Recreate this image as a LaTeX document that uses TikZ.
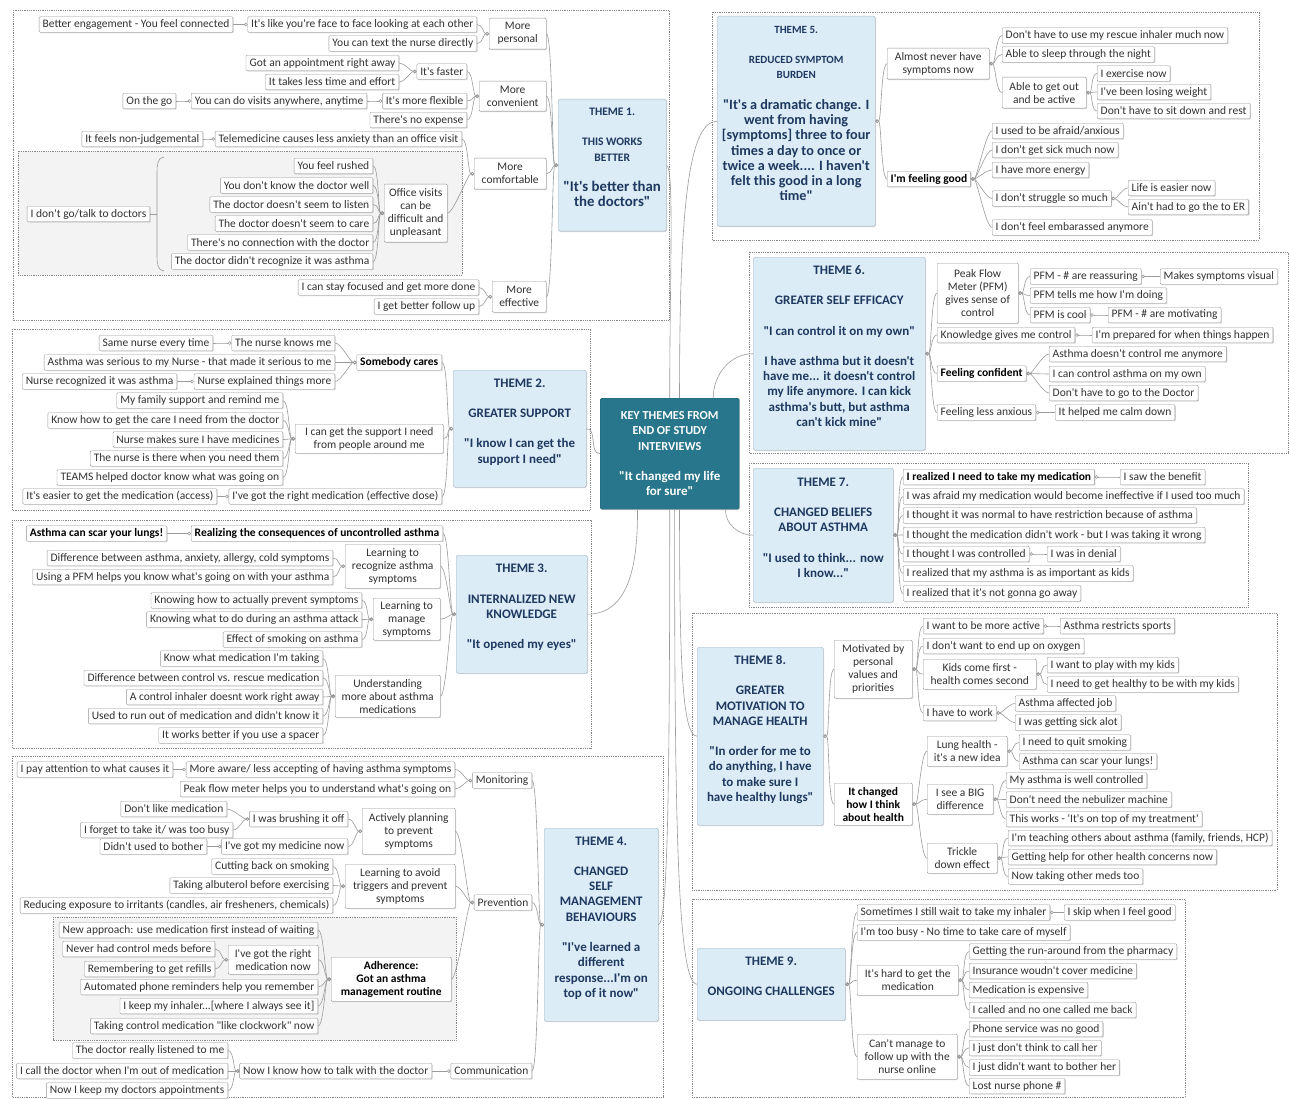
\documentclass[tikz,border=0pt]{standalone}
\usepackage{fontspec}
\setmainfont{Carlito}[Ligatures=TeXReset]
\usetikzlibrary{arrows.meta,shadows}

\definecolor{hubteal}{RGB}{40,118,140}
\definecolor{themefill}{RGB}{220,236,246}
\definecolor{themeline}{RGB}{165,185,200}
\definecolor{themetext}{RGB}{30,57,96}
\definecolor{leafline}{RGB}{150,150,150}
\definecolor{leaftext}{RGB}{50,50,50}
\definecolor{linkgray}{RGB}{155,155,155}
\definecolor{framegray}{RGB}{135,135,135}
\definecolor{groupfill}{RGB}{243,243,243}

\newcommand{\qsize}[1]{\fontsize{#1}{15.3}\selectfont}

\begin{document}
\begin{tikzpicture}[x=1pt,y=-1pt,
    softshadow/.style={drop shadow={shadow xshift=0.9pt,shadow yshift=-0.9pt,
      opacity=0.35,fill=black!45}},
    leaf/.style={draw=leafline,fill=white,text=leaftext,rounded corners=1pt,softshadow,
      font=\fontsize{11.5}{13}\selectfont,inner xsep=3.5pt,inner ysep=1pt,
      minimum height=15.5pt,align=center},
    boldleaf/.style={leaf,text=black,font=\fontsize{11.5}{13}\selectfont\bfseries},
    mleaf/.style={leaf,anchor=north west},
    theme/.style={draw=themeline,fill=themefill,text=themetext,rounded corners=1.5pt,softshadow,
      font=\qsize{13}\bfseries,align=center,anchor=north west,inner xsep=3pt},
    hub/.style={theme,draw=hubteal!85!black,fill=hubteal,text=white,
      font=\qsize{12.2}\bfseries},
    frame/.style={draw=framegray,densely dotted,line width=0.8pt},
    group/.style={frame,fill=groupfill},
    link/.style={draw=linkgray,line width=0.6pt},
    lft/.style={link,{Circle[open,length=3.5pt,width=3.5pt]}-,out=180,in=0,
      out distance=6pt,in distance=6pt},
    rgt/.style={link,{Circle[open,length=3.5pt,width=3.5pt]}-,out=0,in=180,
      out distance=6pt,in distance=6pt}]

\fill[white] (0,0) rectangle (1289,1099);
\useasboundingbox (0,0) rectangle (1289,1099);

\draw[frame] (13,10) rectangle (669,320);
\draw[group] (18,151) rectangle (462,275);
\draw[frame] (12,329) rectangle (590,510);
\draw[frame] (12,520) rectangle (591,748);
\draw[frame] (12,756) rectangle (663,1097);
\draw[group] (53,917) rectangle (456,1040);
\draw[frame] (712,12) rectangle (1259,240);
\draw[frame] (749,252) rectangle (1288,453);
\draw[frame] (749,463) rectangle (1248,607);
\draw[frame] (692,613) rectangle (1277,890);
\draw[frame] (692,899) rectangle (1185,1097);

\node[hub,minimum width=139,minimum height=111] (key) at (600,398)
  {KEY THEMES FROM\\END OF STUDY\\INTERVIEWS\\[15pt]\qsize{13}"It changed my life\\\qsize{13}for sure"};

\node[theme,minimum width=108,minimum height=132] (t1) at (558,99)
  {\qsize{11.5}THEME 1.\\[15pt]\qsize{11.5}THIS WORKS\\\qsize{11.5}BETTER\\[15pt]\qsize{14.8}"It's better than\\\qsize{14.8}the doctors"\\\mbox{}};
\node[theme,minimum width=133,minimum height=117] (t2) at (453,370)
  {THEME 2.\\[15pt]GREATER SUPPORT\\[15pt]"I know I can get the\\support I need"\\\mbox{}};
\node[theme,minimum width=131,minimum height=118] (t3) at (456,555)
  {THEME 3.\\[15pt]INTERNALIZED NEW\\KNOWLEDGE\\[15pt]"It opened my eyes"\\\mbox{}};
\node[theme,minimum width=114,minimum height=193] (t4) at (544,828)
  {THEME 4.\\[15pt]CHANGED\\SELF\\MANAGEMENT\\BEHAVIOURS\\[15pt]"I've learned a\\different\\response...I'm on\\top of it now"\\\mbox{}};
\node[theme,minimum width=158,minimum height=210] (t5) at (717,16)
  {\qsize{11}THEME 5.\\[15pt]\qsize{11}REDUCED SYMPTOM\\\qsize{11}BURDEN\\[15pt]\qsize{14.2}"It's a dramatic change. I\\\qsize{14.2}went from having\\\qsize{14.2}[symptoms] three to four\\\qsize{14.2}times a day to once or\\\qsize{14.2}twice a week.... I haven't\\\qsize{14.2}felt this good in a long\\\qsize{14.2}time"\\\mbox{}};
\node[theme,minimum width=172,minimum height=193] (t6) at (753,257)
  {THEME 6.\\[15pt]GREATER SELF EFFICACY\\[15pt]"I can control it on my own"\\[15pt]I have asthma but it doesn't\\have me... it doesn't control\\my life anymore. I can kick\\asthma's butt, but asthma\\can't kick mine"\\\mbox{}};
\node[theme,minimum width=140,minimum height=134] (t7) at (753,468)
  {THEME 7.\\[15pt]CHANGED BELIEFS\\ABOUT ASTHMA\\[15pt]"I used to think... now\\I know..."\\\mbox{}};
\node[theme,minimum width=126,minimum height=178] (t8) at (697,647)
  {THEME 8.\\[15pt]GREATER\\MOTIVATION TO\\MANAGE HEALTH\\[15pt]"In order for me to\\do anything, I have\\to make sure I\\have healthy lungs"\\\mbox{}};
\node[theme,minimum width=148,minimum height=72] (t9) at (697,948)
  {THEME 9.\\[15pt]ONGOING CHALLENGES\\\mbox{}};

\node[mleaf,minimum width=57,minimum height=31] (a1) at (489,18) {More\\personal};
\node[leaf,anchor=east] (a11) at (477,24.5) {It's like you're face to face looking at each other};
\node[leaf,anchor=east] (a111) at (233,24.5) {Better engagement - You feel connected};
\node[leaf,anchor=east] (a12) at (477,43.5) {You can text the nurse directly};
\node[mleaf,minimum width=67,minimum height=30] (a2) at (479,81) {More\\convenient};
\node[leaf,anchor=east] (a21) at (467,71.5) {It's faster};
\node[leaf,anchor=east] (a211) at (399,63) {Got an appointment right away};
\node[leaf,anchor=east] (a212) at (399,82) {It takes less time and effort};
\node[leaf,anchor=east] (a22) at (467,101) {It's more flexible};
\node[leaf,anchor=east] (a221) at (367,101) {You can do visits anywhere, anytime};
\node[leaf,anchor=east] (a2211) at (176,101) {On the go};
\node[leaf,anchor=east] (a23) at (467,120) {There's no expense};
\node[mleaf,minimum width=72,minimum height=31] (a3) at (474,158) {More\\comfortable};
\node[leaf,anchor=east] (a31) at (462,139) {Telemedicine causes less anxiety than an office visit};
\node[leaf,anchor=east] (a311) at (203,139) {It feels non-judgemental};
\node[mleaf,minimum width=63,minimum height=58] (a32) at (384,184) {Office visits\\can be\\difficult and\\unpleasant};
\node[leaf,anchor=east] (a321) at (373,166) {You feel rushed};
\node[leaf,anchor=east] (a322) at (373,185.5) {You don't know the doctor well};
\node[leaf,anchor=east] (a323) at (373,204.5) {The doctor doesn't seem to listen};
\node[leaf,anchor=east] (a324) at (373,223.5) {The doctor doesn't seem to care};
\node[leaf,anchor=east] (a325) at (373,242.5) {There's no connection with the doctor};
\node[leaf,anchor=east] (a326) at (373,261.5) {The doctor didn't recognize it was asthma};
\node[leaf,anchor=east] (a3s) at (150,214) {I don't go/talk to doctors};
\node[mleaf,minimum width=54,minimum height=31] (a4) at (492,281) {More\\effective};
\node[leaf,anchor=east] (a41) at (479,287.5) {I can stay focused and get more done};
\node[leaf,anchor=east] (a42) at (479,306.5) {I get better follow up};

\node[boldleaf,anchor=east] (b1) at (442,362.5) {Somebody cares};
\node[leaf,anchor=east] (b11) at (335,343) {The nurse knows me};
\node[leaf,anchor=east] (b111) at (213,343) {Same nurse every time};
\node[leaf,anchor=east] (b12) at (335,362.5) {Asthma was serious to my Nurse - that made it serious to me};
\node[leaf,anchor=east] (b13) at (335,381.5) {Nurse explained things more};
\node[leaf,anchor=east] (b131) at (177,381.5) {Nurse recognized it was asthma};
\node[mleaf,minimum width=148,minimum height=29] (b2) at (295,424) {I can get the support I need\\from people around me};
\node[leaf,anchor=east] (b21) at (283,400.5) {My family support and remind me};
\node[leaf,anchor=east] (b22) at (283,420.5) {Know how to get the care I need from the doctor};
\node[leaf,anchor=east] (b23) at (283,439.5) {Nurse makes sure I have medicines};
\node[leaf,anchor=east] (b24) at (283,458.5) {The nurse is there when you need them};
\node[leaf,anchor=east] (b25) at (283,477.5) {TEAMS helped doctor know what was going on};
\node[leaf,anchor=east] (b3) at (442,496.5) {I've got the right medication (effective dose)};
\node[leaf,anchor=east] (b31) at (217,496.5) {It's easier to get the medication (access)};

\node[boldleaf,anchor=east] (c1) at (443,533.5) {Realizing the consequences of uncontrolled asthma};
\node[boldleaf,anchor=east] (c11) at (167,533.5) {Asthma can scar your lungs!};
\node[mleaf,minimum width=95,minimum height=44] (c2) at (345,544) {Learning to\\recognize asthma\\symptoms};
\node[leaf,anchor=east] (c21) at (333,558) {Difference between asthma, anxiety, allergy, cold symptoms};
\node[leaf,anchor=east] (c22) at (333,577) {Using a PFM helps you know what's going on with your asthma};
\node[mleaf,minimum width=67,minimum height=42] (c3) at (373,598) {Learning to\\manage\\symptoms};
\node[leaf,anchor=east] (c31) at (362,600.5) {Knowing how to actually prevent symptoms};
\node[leaf,anchor=east] (c32) at (362,619.5) {Knowing what to do during an asthma attack};
\node[leaf,anchor=east] (c33) at (362,639.5) {Effect of smoking on asthma};
\node[mleaf,minimum width=105,minimum height=42] (c4) at (335,675) {Understanding\\more about asthma\\medications};
\node[leaf,anchor=east] (c41) at (323,658.5) {Know what medication I'm taking};
\node[leaf,anchor=east] (c42) at (323,678) {Difference between control vs. rescue medication};
\node[leaf,anchor=east] (c43) at (323,697) {A control inhaler doesnt work right away};
\node[leaf,anchor=east] (c44) at (323,716) {Used to run out of medication and didn't know it};
\node[leaf,anchor=east] (c45) at (323,735.5) {It works better if you use a spacer};

\node[leaf,anchor=east] (d1) at (532,780.5) {Monitoring};
\node[leaf,anchor=east] (d11) at (455,769.5) {More aware/ less accepting of having asthma symptoms};
\node[leaf,anchor=east] (d111) at (173,769.5) {I pay attention to what causes it};
\node[leaf,anchor=east] (d12) at (455,789) {Peak flow meter helps you to understand what's going on};
\node[leaf,anchor=east] (d2) at (532,902.5) {Prevention};
\node[mleaf,minimum width=93,minimum height=46] (d21) at (362,808) {Actively planning\\to prevent\\symptoms};
\node[leaf,anchor=east] (d211) at (348,819) {I was brushing it off};
\node[leaf,anchor=east] (d2111) at (227,809) {Don't like medication};
\node[leaf,anchor=east] (d2112) at (233,830) {I forget to take it/ was too busy};
\node[leaf,anchor=east] (d212) at (348,846.5) {I've got my medicine now};
\node[leaf,anchor=east] (d2121) at (207,846.5) {Didn't used to bother};
\node[mleaf,minimum width=110,minimum height=44] (d22) at (345,864) {Learning to avoid\\triggers and prevent\\symptoms};
\node[leaf,anchor=east] (d221) at (333,866.5) {Cutting back on smoking};
\node[leaf,anchor=east] (d222) at (333,885.5) {Taking albuterol before exercising};
\node[leaf,anchor=east] (d223) at (333,905.5) {Reducing exposure to irritants (candles, air fresheners, chemicals)};
\node[boldleaf,anchor=north west,minimum width=120,minimum height=44] (d23) at (331,957) {Adherence:\\Got an asthma\\management routine};
\node[leaf,anchor=east] (d231) at (318,930) {New approach: use medication first instead of waiting};
\node[mleaf,minimum width=90,minimum height=29] (d232) at (228,945) {I've got the right\\medication now};
\node[leaf,anchor=east] (d2321) at (215,949) {Never had control meds before};
\node[leaf,anchor=east] (d2322) at (215,969) {Remembering to get refills};
\node[leaf,anchor=east] (d233) at (318,987) {Automated phone reminders help you remember};
\node[leaf,anchor=east] (d234) at (318,1006) {I keep my inhaler...[where I always see it]};
\node[leaf,anchor=east] (d235) at (318,1026) {Taking control medication "like clockwork" now};
\node[leaf,anchor=east] (d3) at (532,1071) {Communication};
\node[leaf,anchor=east] (d31) at (432,1071) {Now I know how to talk with the doctor};
\node[leaf,anchor=east] (d311) at (228,1050.5) {The doctor really listened to me};
\node[leaf,anchor=east] (d312) at (228,1071) {I call the doctor when I'm out of medication};
\node[leaf,anchor=east] (d313) at (228,1090.5) {Now I keep my doctors appointments};

\node[mleaf,minimum width=102,minimum height=31] (e1) at (887,48) {Almost never have\\symptoms now};
\node[leaf,anchor=west] (e11) at (1002,35.5) {Don't have to use my rescue inhaler much now};
\node[leaf,anchor=west] (e12) at (1002,54.5) {Able to sleep through the night};
\node[mleaf,minimum width=84,minimum height=31] (e13) at (1002,77) {Able to get out\\and be active};
\node[leaf,anchor=west] (e131) at (1097,73.5) {I exercise now};
\node[leaf,anchor=west] (e132) at (1097,92) {I've been losing weight};
\node[leaf,anchor=west] (e133) at (1097,111) {Don't have to sit down and rest};
\node[boldleaf,anchor=west] (e2) at (887,179) {I'm feeling good};
\node[leaf,anchor=west] (e21) at (992,131) {I used to be afraid/anxious};
\node[leaf,anchor=west] (e22) at (992,150) {I don't get sick much now};
\node[leaf,anchor=west] (e23) at (992,170) {I have more energy};
\node[leaf,anchor=west] (e24) at (992,198.5) {I don't struggle so much};
\node[leaf,anchor=west] (e241) at (1128,188) {Life is easier now};
\node[leaf,anchor=west] (e242) at (1128,207) {Ain't had to go the to ER};
\node[leaf,anchor=west] (e25) at (992,227.5) {I don't feel embarassed anymore};

\node[mleaf,minimum width=81,minimum height=60] (f1) at (937,263) {Peak Flow\\Meter (PFM)\\gives sense of\\control};
\node[leaf,anchor=west] (f11) at (1030,276.5) {PFM - \# are reassuring};
\node[leaf,anchor=west] (f111) at (1160,276.5) {Makes symptoms visual};
\node[leaf,anchor=west] (f12) at (1030,295.5) {PFM tells me how I'm doing};
\node[leaf,anchor=west] (f13) at (1030,315) {PFM is cool};
\node[leaf,anchor=west] (f131) at (1108,315) {PFM - \# are motivating};
\node[leaf,anchor=west] (f2) at (937,335) {Knowledge gives me control};
\node[leaf,anchor=west] (f21) at (1092,335) {I'm prepared for when things happen};
\node[boldleaf,anchor=west] (f3) at (937,373.5) {Feeling confident};
\node[leaf,anchor=west] (f31) at (1049,354) {Asthma doesn't control me anymore};
\node[leaf,anchor=west] (f32) at (1049,374) {I can control asthma on my own};
\node[leaf,anchor=west] (f33) at (1049,393) {Don't have to go to the Doctor};
\node[leaf,anchor=west] (f4) at (937,412.5) {Feeling less anxious};
\node[leaf,anchor=west] (f41) at (1055,412.5) {It helped me calm down};

\node[boldleaf,anchor=west] (g1) at (903,477) {I realized I need to take my medication};
\node[leaf,anchor=west] (g11) at (1120,477) {I saw the benefit};
\node[leaf,anchor=west] (g2) at (903,496.5) {I was afraid my medication would become ineffective if I used too much};
\node[leaf,anchor=west] (g3) at (903,515.5) {I thought it was normal to have restriction because of asthma};
\node[leaf,anchor=west] (g4) at (903,535) {I thought the medication didn't work - but I was taking it wrong};
\node[leaf,anchor=west] (g5) at (903,554) {I thought I was controlled};
\node[leaf,anchor=west] (g51) at (1047,554) {I was in denial};
\node[leaf,anchor=west] (g6) at (903,573.5) {I realized that my asthma is as important as kids};
\node[leaf,anchor=west] (g7) at (903,593.5) {I realized that it's not gonna go away};

\node[mleaf,minimum width=78,minimum height=58] (h1) at (834,640) {Motivated by\\personal\\values and\\priorities};
\node[leaf,anchor=west] (h11) at (923,626) {I want to be more active};
\node[leaf,anchor=west] (h111) at (1060,626) {Asthma restricts sports};
\node[leaf,anchor=west] (h12) at (923,646) {I don't want to end up on oxygen};
\node[mleaf,minimum width=113,minimum height=30] (h13) at (923,659) {Kids come first -\\health comes second};
\node[leaf,anchor=west] (h131) at (1047,665) {I want to play with my kids};
\node[leaf,anchor=west] (h132) at (1047,684.5) {I need to get healthy to be with my kids};
\node[leaf,anchor=west] (h14) at (923,713) {I have to work};
\node[leaf,anchor=west] (h141) at (1015,703.5) {Asthma affected job};
\node[leaf,anchor=west] (h142) at (1015,722.5) {I was getting sick alot};
\node[boldleaf,anchor=north west,minimum width=78,minimum height=42] (h2) at (834,783) {It changed\\how I think\\about health};
\node[mleaf,minimum width=80,minimum height=30] (h21) at (927,736) {Lung health -\\it's a new idea};
\node[leaf,anchor=west] (h211) at (1019,742.5) {I need to quit smoking};
\node[leaf,anchor=west] (h212) at (1019,761.5) {Asthma can scar your lungs!};
\node[mleaf,minimum width=66,minimum height=30] (h22) at (927,784) {I see a BIG\\difference};
\node[leaf,anchor=west] (h221) at (1006,780.5) {My asthma is well controlled};
\node[leaf,anchor=west] (h222) at (1006,799.5) {Don't need the nebulizer machine};
\node[leaf,anchor=west] (h223) at (1006,819) {This works - 'It's on top of my treatment'};
\node[mleaf,minimum width=70,minimum height=30] (h23) at (927,843) {Trickle\\down effect};
\node[leaf,anchor=west] (h231) at (1008,838) {I'm teaching others about asthma (family, friends, HCP)};
\node[leaf,anchor=west] (h232) at (1008,857) {Getting help for other health concerns now};
\node[leaf,anchor=west] (h233) at (1008,876.5) {Now taking other meds too};

\node[leaf,anchor=west] (i1) at (857,912.5) {Sometimes I still wait to take my inhaler};
\node[leaf,anchor=west] (i11) at (1064,912.5) {I skip when I feel good};
\node[leaf,anchor=west] (i2) at (857,932.5) {I'm too busy - No time to take care of myself};
\node[mleaf,minimum width=101,minimum height=30] (i3) at (857,965) {It's hard to get the\\medication};
\node[leaf,anchor=west] (i31) at (969,951.5) {Getting the run-around from the pharmacy};
\node[leaf,anchor=west] (i32) at (969,971) {Insurance woudn't cover medicine};
\node[leaf,anchor=west] (i33) at (969,990) {Medication is expensive};
\node[leaf,anchor=west] (i34) at (969,1010) {I called and no one called me back};
\node[mleaf,minimum width=100,minimum height=45] (i4) at (857,1034) {Can't manage to\\follow up with the\\nurse online};
\node[leaf,anchor=west] (i41) at (969,1029) {Phone service was no good};
\node[leaf,anchor=west] (i42) at (969,1048) {I just don't think to call her};
\node[leaf,anchor=west] (i43) at (969,1067.5) {I just didn't want to bother her};
\node[leaf,anchor=west] (i44) at (969,1086) {Lost nurse phone \#};

\coordinate (sb1) at (164,157);
\coordinate (sb2) at (157,172);
\coordinate (sbm) at (157,214);
\coordinate (sb3) at (157,256);
\coordinate (sb4) at (164,271);
\draw[link] (sb1) to[out=180,in=90] (sb2) -- (sb3) to[out=270,in=180] (sb4);
\draw[link] (a3s.east) -- (sbm);

\path[link]
  (key.north) edge[out=90,in=0,out distance=120pt,in distance=8pt] (t1.east)
  (key.80) edge[out=90,in=180,out distance=180pt,in distance=30pt] (t5.west)
  (key.52) edge[out=90,in=180] (t6.west)
  (key.west) edge[out=180,in=0] (t2.east)
  (key.240) edge[out=270,in=0] (t3.east)
  (key.south) edge[out=270,in=0,out distance=250pt,in distance=10pt] (t4.east)
  (key.-45) edge[out=270,in=180] (t7.west)
  (key.-80) edge[out=270,in=180,out distance=150pt,in distance=15pt] (t8.west)
  (key.-85) edge[out=270,in=180,out distance=300pt,in distance=20pt] (t9.west);

\path
  (t1.west) edge[lft] (a1.east) edge[lft] (a2.east) edge[lft] (a3.east) edge[lft] (a4.east)
  (a1.west) edge[lft] (a11.east) edge[lft] (a12.east)
  (a11.west) edge[lft] (a111.east)
  (a2.west) edge[lft] (a21.east) edge[lft] (a22.east) edge[lft] (a23.east)
  (a21.west) edge[lft] (a211.east) edge[lft] (a212.east)
  (a22.west) edge[lft] (a221.east)
  (a221.west) edge[lft] (a2211.east)
  (a3.west) edge[lft] (a31.east) edge[lft] (a32.east)
  (a31.west) edge[lft] (a311.east)
  (a4.west) edge[lft] (a41.east) edge[lft] (a42.east);
\foreach \n in {1,...,6}
  \path (a32.west) edge[lft] (a32\n.east);

\path
  (t2.west) edge[lft] (b1.east) edge[lft] (b2.east) edge[lft] (b3.east)
  (b1.west) edge[lft] (b11.east) edge[lft] (b12.east) edge[lft] (b13.east)
  (b11.west) edge[lft] (b111.east)
  (b13.west) edge[lft] (b131.east)
  (b3.west) edge[lft] (b31.east);
\foreach \n in {1,...,5}
  \path (b2.west) edge[lft] (b2\n.east);

\path
  (t3.west) edge[lft] (c1.east) edge[lft] (c2.east) edge[lft] (c3.east) edge[lft] (c4.east)
  (c1.west) edge[lft] (c11.east)
  (c2.west) edge[lft] (c21.east) edge[lft] (c22.east)
  (c3.west) edge[lft] (c31.east) edge[lft] (c32.east) edge[lft] (c33.east);
\foreach \n in {1,...,5}
  \path (c4.west) edge[lft] (c4\n.east);

\path
  (t4.west) edge[lft] (d1.east) edge[lft] (d2.east) edge[lft] (d3.east)
  (d1.west) edge[lft] (d11.east) edge[lft] (d12.east)
  (d11.west) edge[lft] (d111.east)
  (d2.west) edge[lft] (d21.east) edge[lft] (d22.east) edge[lft] (d23.east)
  (d21.west) edge[lft] (d211.east) edge[lft] (d212.east)
  (d211.west) edge[lft] (d2111.east) edge[lft] (d2112.east)
  (d212.west) edge[lft] (d2121.east)
  (d22.west) edge[lft] (d221.east) edge[lft] (d222.east) edge[lft] (d223.east)
  (d232.west) edge[lft] (d2321.east) edge[lft] (d2322.east)
  (d3.west) edge[lft] (d31.east)
  (d31.west) edge[lft] (d311.east) edge[lft] (d312.east) edge[lft] (d313.east);
\foreach \n in {1,...,5}
  \path (d23.west) edge[lft] (d23\n.east);

\path
  (t5.east) edge[rgt] (e1.west) edge[rgt] (e2.west)
  (e1.east) edge[rgt] (e11.west) edge[rgt] (e12.west) edge[rgt] (e13.west)
  (e13.east) edge[rgt] (e131.west) edge[rgt] (e132.west) edge[rgt] (e133.west)
  (e24.east) edge[rgt] (e241.west) edge[rgt] (e242.west);
\foreach \n in {1,...,5}
  \path (e2.east) edge[rgt] (e2\n.west);

\path
  (t6.east) edge[rgt] (f1.west) edge[rgt] (f2.west) edge[rgt] (f3.west) edge[rgt] (f4.west)
  (f1.east) edge[rgt] (f11.west) edge[rgt] (f12.west) edge[rgt] (f13.west)
  (f11.east) edge[rgt] (f111.west)
  (f13.east) edge[rgt] (f131.west)
  (f2.east) edge[rgt] (f21.west)
  (f3.east) edge[rgt] (f31.west) edge[rgt] (f32.west) edge[rgt] (f33.west)
  (f4.east) edge[rgt] (f41.west);

\foreach \n in {1,...,7}
  \path (t7.east) edge[rgt] (g\n.west);
\path
  (g1.east) edge[rgt] (g11.west)
  (g5.east) edge[rgt] (g51.west);

\path
  (t8.east) edge[rgt] (h1.west) edge[rgt] (h2.west)
  (h1.east) edge[rgt] (h11.west) edge[rgt] (h12.west) edge[rgt] (h13.west) edge[rgt] (h14.west)
  (h11.east) edge[rgt] (h111.west)
  (h13.east) edge[rgt] (h131.west) edge[rgt] (h132.west)
  (h14.east) edge[rgt] (h141.west) edge[rgt] (h142.west)
  (h2.east) edge[rgt] (h21.west) edge[rgt] (h22.west) edge[rgt] (h23.west)
  (h21.east) edge[rgt] (h211.west) edge[rgt] (h212.west)
  (h22.east) edge[rgt] (h221.west) edge[rgt] (h222.west) edge[rgt] (h223.west)
  (h23.east) edge[rgt] (h231.west) edge[rgt] (h232.west) edge[rgt] (h233.west);

\path
  (t9.east) edge[rgt] (i1.west) edge[rgt] (i2.west) edge[rgt] (i3.west) edge[rgt] (i4.west)
  (i1.east) edge[rgt] (i11.west);
\foreach \n in {1,...,4}
  \path (i3.east) edge[rgt] (i3\n.west) (i4.east) edge[rgt] (i4\n.west);
\end{tikzpicture}
\end{document}
